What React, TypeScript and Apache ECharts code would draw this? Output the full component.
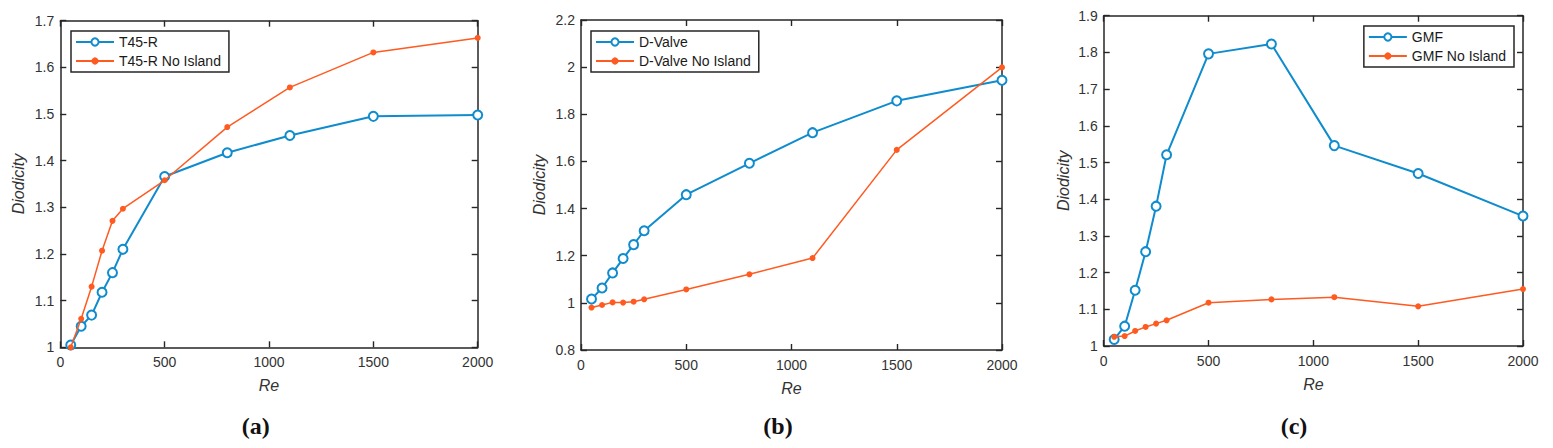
import React, { useEffect, useRef } from "react";
import * as echarts from "echarts";

// Reynolds numbers sampled in every panel
const reValues = [50, 100, 150, 200, 250, 300, 500, 800, 1100, 1500, 2000];

// (a) T45-R
const t45r = [1.005, 1.045, 1.069, 1.118, 1.16, 1.21, 1.366, 1.417, 1.454, 1.495, 1.498];
const t45rNoIsland = [1.0, 1.061, 1.13, 1.207, 1.271, 1.297, 1.358, 1.472, 1.557, 1.632, 1.663];

// (b) D-Valve
const dValve = [1.016, 1.063, 1.127, 1.188, 1.247, 1.306, 1.459, 1.592, 1.722, 1.857, 1.944];
const dValveNoIsland = [0.98, 0.991, 1.002, 1.001, 1.005, 1.015, 1.057, 1.121, 1.19, 1.649, 1.999];

// (c) GMF
const gmf = [1.018, 1.054, 1.152, 1.257, 1.381, 1.521, 1.796, 1.823, 1.546, 1.47, 1.354];
const gmfNoIsland = [1.025, 1.027, 1.041, 1.052, 1.061, 1.07, 1.118, 1.127, 1.133, 1.108, 1.155];

const panelLetters = ["a", "b", "c"];
const seriesNames = [
  ["T45-R", "T45-R No Island"],
  ["D-Valve", "D-Valve No Island"],
  ["GMF", "GMF No Island"],
];
const yRanges = [
  { min: 1, max: 1.7, interval: 0.1 },
  { min: 0.8, max: 2.2, interval: 0.2 },
  { min: 1, max: 1.9, interval: 0.1 },
];

const BLUE = "#0f8ccd";
const ORANGE = "#ff5a1f";
const AXIS = "#262626";
const FONT = "Liberation Sans, Arial, sans-serif";

const grids = [
  { left: 60.3, top: 20.7, width: 417.4, height: 326.6 },
  { left: 581, top: 20, width: 421, height: 330 },
  { left: 1103.7, top: 15.7, width: 419.3, height: 330.3 },
];

const pairs = (ys: number[]) => reValues.map((x, i) => [x, ys[i]]);
const plain = (v: number) => String(+v.toFixed(2));

const axisLine = () => ({ show: true, onZero: false, lineStyle: { color: AXIS, width: 1.5 } });
const axisTick = () => ({ show: true, inside: true, length: 6, lineStyle: { color: AXIS, width: 1.4 } });

export default function App() {
  const ref = useRef<HTMLDivElement>(null);

  useEffect(() => {
    if (!ref.current) return;
    const chart = echarts.init(ref.current, undefined, { renderer: "svg" });
    const data = [
      [t45r, t45rNoIsland],
      [dValve, dValveNoIsland],
      [gmf, gmfNoIsland],
    ];

    const labelStyle = () => ({ color: "#333", fontSize: 14, fontFamily: FONT, formatter: plain });
    const nameStyle = () => ({ color: "#333", fontSize: 16, fontStyle: "italic", fontFamily: FONT });

    const xAxis: any[] = [];
    const yAxis: any[] = [];
    const series: any[] = [];

    grids.forEach((_, g) => {
      xAxis.push({
        type: "value", gridIndex: g, min: 0, max: 2000, interval: 500,
        position: "bottom",
        splitLine: { show: false }, axisLine: axisLine(), axisTick: axisTick(),
        axisLabel: { ...labelStyle(), margin: 8 },
        name: "Re", nameLocation: "middle", nameGap: 30, nameTextStyle: nameStyle(),
      });
      xAxis.push({
        type: "value", gridIndex: g, min: 0, max: 2000, interval: 500,
        position: "top",
        splitLine: { show: false }, axisLine: axisLine(), axisTick: axisTick(),
        axisLabel: { show: false },
      });

      yAxis.push({
        type: "value", gridIndex: g, ...yRanges[g],
        position: "left",
        splitLine: { show: false }, axisLine: axisLine(), axisTick: axisTick(),
        axisLabel: { ...labelStyle(), margin: 6 },
        name: "Diodicity", nameLocation: "middle", nameRotate: 90,
        nameGap: g === 2 ? 32 : 34, nameTextStyle: nameStyle(),
      });
      yAxis.push({
        type: "value", gridIndex: g, ...yRanges[g],
        position: "right",
        splitLine: { show: false }, axisLine: axisLine(), axisTick: axisTick(),
        axisLabel: { show: false },
      });

      series.push({
        type: "line",
        name: seriesNames[g][0],
        xAxisIndex: g * 2,
        yAxisIndex: g * 2,
        data: pairs(data[g][0]),
        symbol: "emptyCircle",
        symbolSize: 9,
        lineStyle: { color: BLUE, width: 2 },
        itemStyle: { color: BLUE, borderColor: BLUE, borderWidth: 1.6 },
        z: 2,
      });
      series.push({
        type: "line",
        name: seriesNames[g][1],
        xAxisIndex: g * 2,
        yAxisIndex: g * 2,
        data: pairs(data[g][1]),
        symbol: "circle",
        symbolSize: 6,
        lineStyle: { color: ORANGE, width: 1.5 },
        itemStyle: { color: ORANGE },
        z: 3,
      });
    });

    const legendBase = {
      orient: "vertical",
      backgroundColor: "#fff",
      borderColor: AXIS,
      borderWidth: 1.5,
      borderRadius: 0,
      padding: [3, 8, 3, 4],
      itemGap: 3,
      itemWidth: 38,
      itemHeight: 9,
      textStyle: { color: "#1a1a1a", fontSize: 14, fontFamily: FONT, lineHeight: 16 },
    };

    const legend = [
      { ...legendBase, data: seriesNames[0], left: 71, top: 31 },
      { ...legendBase, data: seriesNames[1], left: 591, top: 31 },
      { ...legendBase, data: seriesNames[2], right: 39, top: 26 },
    ];

    const titleCenters = [250.7, 773, 1289];
    const serif = "Liberation Serif, Times New Roman, serif";
    const title = panelLetters.map((l, i) => ({
      text: `{p|(}{b|${l}}{p|)}`,
      left: titleCenters[i],
      top: 409,
      textAlign: "center",
      textStyle: {
        rich: {
          p: { fontFamily: serif, fontSize: 24, color: "#111" },
          b: { fontFamily: serif, fontSize: 24, fontWeight: "bold", color: "#111" },
        },
      },
    }));

    chart.setOption({
      animation: false,
      backgroundColor: "#fff",
      title,
      legend,
      grid: grids.map((g) => ({ ...g, containLabel: false })),
      xAxis,
      yAxis,
      series,
    });

    return () => chart.dispose();
  }, []);

  return (
    <div
      ref={ref}
      style={{ position: "absolute", left: 0, top: 0, width: 1553, height: 448 }}
    />
  );
}
